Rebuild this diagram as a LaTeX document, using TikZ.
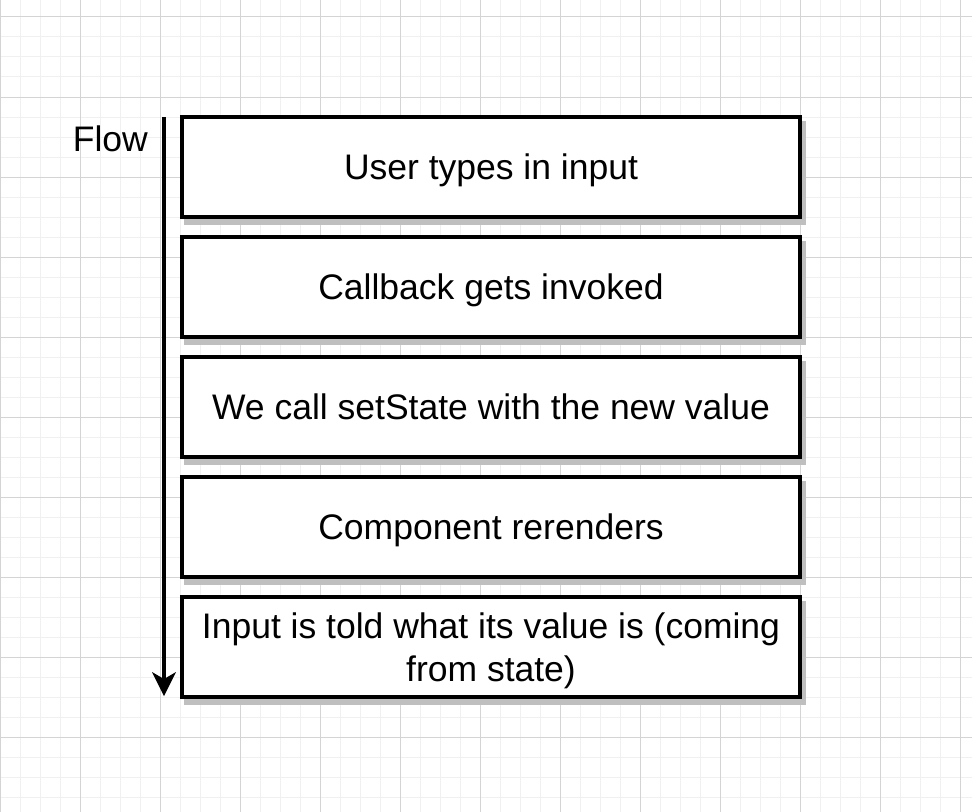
\documentclass[tikz,border=0pt]{standalone}
\usepackage{fontspec}
\setmainfont{Liberation Sans}
\usetikzlibrary{arrows.meta,shadows}
\definecolor{minorgrid}{RGB}{240,240,240}
\definecolor{majorgrid}{RGB}{212,212,212}
\definecolor{shadowgray}{RGB}{191,191,191}
\newcommand\bodyfont{\fontsize{35.5bp}{42.6bp}\selectfont}
\tikzset{
  stepbox/.style={draw, line width=4bp, fill=white, minimum width=618bp,
    minimum height=100bp, inner sep=0pt, align=center, font=\bodyfont,
    general shadow={draw=shadowgray, fill=shadowgray, line width=4bp,
      shadow xshift=4bp, shadow yshift=-6bp}},
  oneline/.style={text height=25.4bp, text depth=0pt},
  twoline/.style={text depth=-3bp},
  minorline/.style={draw=minorgrid, line width=1bp},
  majorline/.style={draw=majorgrid, line width=1bp},
  flowarrow/.style={line width=4bp,
    -{Stealth[length=24bp,width=24bp,inset=7bp,line width=0pt]}}
}
\begin{document}
\begin{tikzpicture}[x=1bp,y=-1bp]
\useasboundingbox (0,0) rectangle (972,812);
\fill[white] (0,0) rectangle (972,812);
% grid
\foreach \i in {0,...,48} \draw[minorline] ({0.7+20*\i},0) -- ({0.7+20*\i},812);
\foreach \j in {0,...,39} \draw[minorline] (0,{17+20*\j}) -- (972,{17+20*\j});
\foreach \i in {0,...,12} \draw[majorline] ({0.7+80*\i},0) -- ({0.7+80*\i},812);
\foreach \j in {0,...,9} \draw[majorline] (0,{17+80*\j}) -- (972,{17+80*\j});
% boxes
\node[stepbox, oneline] (b1) at (491,167) {User types in input};
\node[stepbox, oneline] (b2) at (491,287) {Callback gets invoked};
\node[stepbox, oneline] (b3) at (491,407) {We call setState with the new value};
\node[stepbox, oneline] (b4) at (491,527) {Component rerenders};
\node[stepbox, twoline] (b5) at (491,647) {Input is told what its value is (coming\\from state)};
% flow arrow
\node[font=\bodyfont, anchor=base east, inner sep=0pt] (flow) at (148,151) {Flow};
\coordinate (fs) at (164,117);
\coordinate (fe) at (164,696);
\draw[flowarrow] (fs) -- (fe);
\end{tikzpicture}
\end{document}
